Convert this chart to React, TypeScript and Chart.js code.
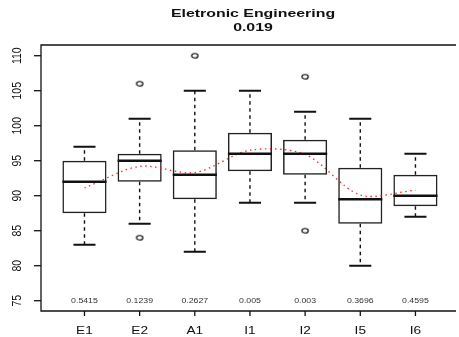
import React, { useEffect, useRef } from "react";
import { Chart, registerables } from "chart.js";

Chart.register(...registerables);

const categories = ["E1", "E2", "A1", "I1", "I2", "I5", "I6"];
const lowerWhisker = [83, 86, 82, 89, 89, 80, 87];
const q1 = [87.5, 92, 89.5, 93.5, 93, 86, 88.5];
const median = [92, 95, 93, 96, 96, 89.5, 90];
const q3 = [95, 96, 96.5, 99, 98, 94, 93];
const upperWhisker = [97, 101, 105, 105, 102, 101, 96];
const outlierCategory = [2, 2, 3, 5, 5];
const outlierValue = [84, 106, 110, 85, 107];
const trend = [91.1, 94.2, 93.3, 96.5, 95.9, 90.1, 90.8];
const pValues = ["0.5415", "0.1239", "0.2627", "0.005", "0.003", "0.3696", "0.4595"];
const yTicks = [75, 80, 85, 90, 95, 100, 105, 110];
const titleLines = ["Eletronic Engineering", "0.019"];
const pValueLevel = 75;

const FONT = '"Liberation Sans", Arial, Helvetica, sans-serif';
const SX = 1.3;

function sText(
  ctx: CanvasRenderingContext2D,
  text: string,
  x: number,
  y: number,
  font: string,
  sx: number,
  rot: number,
  color: string
) {
  ctx.save();
  ctx.translate(x, y);
  ctx.scale(sx, 1);
  if (rot) ctx.rotate(rot);
  ctx.font = font;
  ctx.fillStyle = color;
  ctx.textAlign = "center";
  ctx.textBaseline = "middle";
  ctx.fillText(text, 0, 0);
  ctx.restore();
}

function makeOutlierStyle() {
  const c = document.createElement("canvas");
  c.width = 10;
  c.height = 8;
  const g = c.getContext("2d")!;
  g.strokeStyle = "#000";
  g.lineWidth = 1.1;
  g.beginPath();
  g.ellipse(5, 4, 3.2, 2.3, 0, 0, Math.PI * 2);
  g.stroke();
  return c;
}

const rPlugin = {
  id: "rBoxExtras",
  beforeDatasetsDraw(chart: any) {
    const ctx: CanvasRenderingContext2D = chart.ctx;
    const xs = chart.scales.x;
    const ys = chart.scales.y;
    ctx.save();
    categories.forEach((_, i) => {
      const cx = xs.getPixelForValue(i + 1);
      const capL = xs.getPixelForValue(i + 1 - 0.2);
      const capR = xs.getPixelForValue(i + 1 + 0.2);
      const yUW = ys.getPixelForValue(upperWhisker[i]);
      const yLW = ys.getPixelForValue(lowerWhisker[i]);
      const yQ1 = ys.getPixelForValue(q1[i]);
      const yQ3 = ys.getPixelForValue(q3[i]);
      ctx.strokeStyle = "#111";
      ctx.lineWidth = 1.4;
      ctx.setLineDash([3.5, 3.5]);
      ctx.beginPath();
      ctx.moveTo(cx, yQ3);
      ctx.lineTo(cx, yUW);
      ctx.moveTo(cx, yQ1);
      ctx.lineTo(cx, yLW);
      ctx.stroke();
      ctx.setLineDash([]);
      ctx.lineWidth = 2;
      ctx.beginPath();
      ctx.moveTo(capL, yUW);
      ctx.lineTo(capR, yUW);
      ctx.moveTo(capL, yLW);
      ctx.lineTo(capR, yLW);
      ctx.stroke();
    });
    ctx.restore();
  },
  afterDatasetsDraw(chart: any) {
    const ctx: CanvasRenderingContext2D = chart.ctx;
    const xs = chart.scales.x;
    const ys = chart.scales.y;
    ctx.save();
    ctx.strokeStyle = "#111";
    ctx.lineWidth = 2.4;
    categories.forEach((_, i) => {
      const l = xs.getPixelForValue(i + 1 - 0.4);
      const r = xs.getPixelForValue(i + 1 + 0.4);
      const y = ys.getPixelForValue(median[i]);
      ctx.beginPath();
      ctx.moveTo(l, y);
      ctx.lineTo(r, y);
      ctx.stroke();
    });
    ctx.restore();
  },
  afterDraw(chart: any) {
    const ctx: CanvasRenderingContext2D = chart.ctx;
    const xs = chart.scales.x;
    const ys = chart.scales.y;
    const a = chart.chartArea;
    ctx.save();
    ctx.strokeStyle = "#111";
    ctx.lineWidth = 1.3;
    ctx.beginPath();
    ctx.moveTo(a.right + 2, a.top);
    ctx.lineTo(a.left, a.top);
    ctx.lineTo(a.left, a.bottom);
    ctx.lineTo(a.right + 2, a.bottom);
    ctx.stroke();
    yTicks.forEach((v) => {
      const y = ys.getPixelForValue(v);
      ctx.beginPath();
      ctx.moveTo(a.left, y);
      ctx.lineTo(a.left - 7, y);
      ctx.stroke();
      sText(ctx, String(v), 17, y, `10.5px ${FONT}`, SX, -Math.PI / 2, "#111");
    });
    categories.forEach((c, i) => {
      const x = xs.getPixelForValue(i + 1);
      ctx.beginPath();
      ctx.moveTo(x, a.bottom);
      ctx.lineTo(x, a.bottom + 5);
      ctx.stroke();
      sText(ctx, c, x, a.bottom + 20, `10.5px ${FONT}`, SX, 0, "#111");
      sText(ctx, pValues[i], x, ys.getPixelForValue(pValueLevel), `7px ${FONT}`, 1.25, 0, "#333");
    });
    sText(ctx, titleLines[0], 253, 14, `bold 11.6px ${FONT}`, 1.37, 0, "#111");
    sText(ctx, titleLines[1], 253, 27.5, `bold 11.6px ${FONT}`, 1.37, 0, "#111");
    ctx.restore();
  },
};

export default function App() {
  const ref = useRef<HTMLCanvasElement | null>(null);
  useEffect(() => {
    if (!ref.current) return;
    const outlierStyle = makeOutlierStyle();
    const chart = new Chart(ref.current, {
      type: "bar",
      data: {
        datasets: [
          {
            type: "line",
            label: "trend",
            data: trend.map((v, i) => ({ x: i + 1, y: v })),
            borderColor: "rgba(255,0,0,0.85)",
            borderWidth: 1.3,
            borderDash: [1.5, 3.5],
            pointRadius: 0,
            tension: 0.3,
            fill: false,
            order: 1,
          } as any,
          {
            type: "scatter",
            label: "outliers",
            data: outlierValue.map((v, i) => ({ x: outlierCategory[i], y: v })),
            pointStyle: outlierStyle as any,
            pointRadius: 4,
            order: 2,
          } as any,
          {
            type: "bar",
            label: "box",
            data: categories.map((_, i) => ({ x: i + 1, y: [q1[i], q3[i]] })) as any,
            backgroundColor: "rgba(0,0,0,0)",
            borderColor: "#222",
            borderWidth: 1.5,
            borderSkipped: false,
            barPercentage: 0.8,
            categoryPercentage: 1,
            order: 3,
          } as any,
        ],
      },
      options: {
        animation: false,
        responsive: false,
        devicePixelRatio: 1,
        layout: { padding: { left: 41, top: 45, right: 0, bottom: 26 } },
        plugins: { legend: { display: false }, tooltip: { enabled: false }, title: { display: false } },
        scales: {
          x: { type: "linear", min: 0.2119, max: 7.699, offset: false, display: false },
          y: { type: "linear", min: 73.53, max: 111.53, display: false },
        },
      },
      plugins: [rPlugin],
    });
    return () => chart.destroy();
  }, []);
  return (
    <div style={{ position: "fixed", left: 0, top: 0, width: 459, height: 337, background: "#fff" }}>
      <canvas ref={ref} width={459} height={337} style={{ display: "block" }} />
    </div>
  );
}
